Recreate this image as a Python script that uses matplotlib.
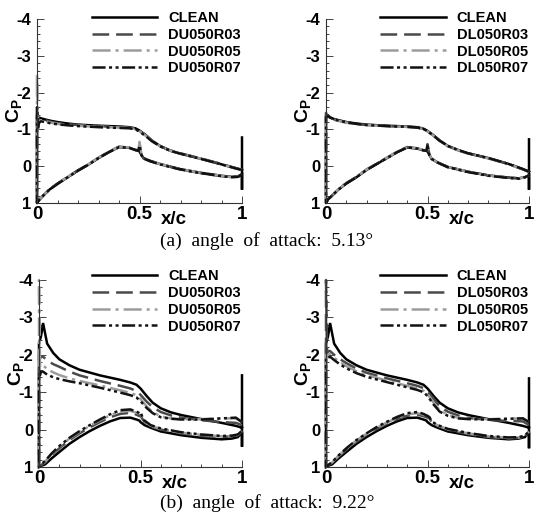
import numpy as np
import matplotlib.pyplot as plt
from matplotlib.ticker import MultipleLocator

plt.rcParams['font.family'] = ['Liberation Sans', 'DejaVu Sans']
plt.rcParams['mathtext.fontset'] = 'custom'
plt.rcParams['mathtext.bf'] = 'Liberation Sans:bold'
plt.rcParams['mathtext.rm'] = 'Liberation Sans'
plt.rcParams['lines.scale_dashes'] = False

# x/c stations, upper (suction) and lower surface
XU = [0.0, 0.005, 0.01, 0.02, 0.04, 0.07, 0.1, 0.15, 0.2, 0.3, 0.4, 0.45, 0.48, 0.5,
      0.53, 0.56, 0.6, 0.65, 0.7, 0.8, 0.9, 0.97, 1.0]
XL = [0.0, 0.01, 0.03, 0.06, 0.1, 0.15, 0.2, 0.25, 0.3, 0.35, 0.4, 0.45, 0.48, 0.495,
      0.5, 0.51, 0.52, 0.55, 0.6, 0.7, 0.8, 0.9, 0.95, 0.98, 1.0]

# (a) 5.13 deg, DU cases
a_du_clean_up = [-1.3, -1.3, -1.32, -1.3, -1.27, -1.23, -1.2, -1.16, -1.13, -1.1, -1.08, -1.06, -1.03, -0.97, -0.85, -0.7, -0.55, -0.42, -0.34, -0.2, -0.05, 0.06, 0.1]
a_du_r03_up = [-1.4, -1.25, -1.3, -1.28, -1.25, -1.2, -1.17, -1.14, -1.12, -1.09, -1.07, -1.05, -1.02, -0.96, -0.84, -0.7, -0.55, -0.43, -0.35, -0.21, -0.06, 0.05, 0.1]
a_du_r05_up = [-2.5, -1.0, -1.2, -1.25, -1.22, -1.18, -1.15, -1.12, -1.1, -1.07, -1.05, -1.04, -1.01, -0.95, -0.83, -0.69, -0.54, -0.42, -0.34, -0.2, -0.05, 0.06, 0.1]
a_du_r07_up = [-1.6, -1.05, -1.18, -1.22, -1.2, -1.16, -1.14, -1.11, -1.09, -1.06, -1.04, -1.03, -1.0, -0.94, -0.82, -0.68, -0.54, -0.42, -0.34, -0.2, -0.05, 0.06, 0.1]
a_du_clean_lo = [1.0, 0.92, 0.8, 0.64, 0.48, 0.3, 0.12, -0.04, -0.22, -0.38, -0.52, -0.5, -0.44, -0.42, -0.4, -0.3, -0.22, -0.15, -0.06, 0.08, 0.18, 0.26, 0.29, 0.28, 0.22]
a_du_r03_lo = [1.0, 0.92, 0.8, 0.63, 0.47, 0.29, 0.11, -0.05, -0.23, -0.39, -0.53, -0.5, -0.44, -0.42, -0.6, -0.3, -0.21, -0.14, -0.05, 0.09, 0.19, 0.27, 0.3, 0.28, 0.22]
a_du_r05_lo = [1.0, 0.91, 0.79, 0.63, 0.47, 0.29, 0.11, -0.05, -0.23, -0.39, -0.53, -0.51, -0.45, -0.43, -0.66, -0.32, -0.22, -0.15, -0.06, 0.08, 0.18, 0.26, 0.3, 0.28, 0.22]
a_du_r07_lo = [1.0, 0.92, 0.8, 0.64, 0.48, 0.3, 0.12, -0.04, -0.22, -0.38, -0.52, -0.5, -0.44, -0.42, -0.56, -0.29, -0.21, -0.14, -0.05, 0.09, 0.19, 0.27, 0.3, 0.29, 0.23]
te_a_du = [0.64, -0.78]

# (a) 5.13 deg, DL cases
a_dl_clean_up = [-1.36, -1.38, -1.38, -1.33, -1.28, -1.24, -1.2, -1.16, -1.13, -1.1, -1.08, -1.06, -1.02, -0.96, -0.84, -0.7, -0.55, -0.44, -0.35, -0.22, -0.06, 0.08, 0.15]
a_dl_r03_up = [-1.45, -1.36, -1.37, -1.32, -1.27, -1.23, -1.19, -1.15, -1.12, -1.09, -1.07, -1.05, -1.01, -0.95, -0.83, -0.69, -0.55, -0.44, -0.35, -0.22, -0.06, 0.08, 0.15]
a_dl_r05_up = [-1.3, -1.34, -1.36, -1.31, -1.26, -1.22, -1.18, -1.15, -1.12, -1.09, -1.07, -1.05, -1.01, -0.95, -0.83, -0.69, -0.54, -0.43, -0.34, -0.21, -0.05, 0.09, 0.16]
a_dl_r07_up = [-1.32, -1.35, -1.36, -1.32, -1.27, -1.23, -1.19, -1.15, -1.12, -1.09, -1.07, -1.05, -1.01, -0.95, -0.83, -0.69, -0.55, -0.44, -0.35, -0.22, -0.06, 0.08, 0.15]
a_dl_clean_lo = [1.0, 0.9, 0.8, 0.64, 0.47, 0.3, 0.1, -0.06, -0.22, -0.38, -0.51, -0.48, -0.43, -0.42, -0.4, -0.3, -0.2, -0.1, 0.02, 0.15, 0.25, 0.31, 0.33, 0.3, 0.25]
a_dl_r03_lo = [1.0, 0.9, 0.8, 0.63, 0.46, 0.29, 0.09, -0.07, -0.23, -0.39, -0.52, -0.48, -0.43, -0.42, -0.6, -0.3, -0.2, -0.1, 0.02, 0.15, 0.25, 0.31, 0.33, 0.3, 0.25]
a_dl_r05_lo = [1.0, 0.9, 0.79, 0.63, 0.46, 0.29, 0.09, -0.07, -0.23, -0.39, -0.52, -0.49, -0.44, -0.43, -0.58, -0.31, -0.21, -0.1, 0.02, 0.15, 0.25, 0.31, 0.33, 0.3, 0.25]
a_dl_r07_lo = [1.0, 0.9, 0.8, 0.64, 0.47, 0.3, 0.1, -0.06, -0.22, -0.38, -0.51, -0.48, -0.43, -0.42, -0.55, -0.3, -0.2, -0.1, 0.03, 0.16, 0.26, 0.32, 0.34, 0.3, 0.25]
te_a_dl = [0.64, -0.73]

# (b) 9.22 deg, DU cases
b_du_clean_up = [-2.3, -2.4, -2.5, -2.85, -2.3, -2.05, -1.88, -1.72, -1.6, -1.45, -1.33, -1.26, -1.2, -1.1, -0.9, -0.72, -0.57, -0.46, -0.39, -0.28, -0.18, -0.1, -0.05]
b_du_r03_up = [-2.0, -1.9, -1.95, -1.95, -1.85, -1.75, -1.68, -1.55, -1.45, -1.3, -1.17, -1.1, -1.03, -0.93, -0.75, -0.6, -0.47, -0.38, -0.32, -0.25, -0.2, -0.18, -0.12]
b_du_r05_up = [-4.0, -1.7, -1.75, -1.72, -1.62, -1.53, -1.46, -1.37, -1.3, -1.18, -1.05, -0.98, -0.92, -0.82, -0.62, -0.47, -0.35, -0.3, -0.28, -0.28, -0.3, -0.3, -0.2]
b_du_r07_up = [-1.5, -1.45, -1.55, -1.55, -1.47, -1.4, -1.35, -1.29, -1.24, -1.12, -0.99, -0.92, -0.86, -0.76, -0.58, -0.44, -0.33, -0.29, -0.27, -0.27, -0.3, -0.32, -0.2]
b_du_clean_lo = [1.0, 0.97, 0.93, 0.78, 0.6, 0.38, 0.2, 0.04, -0.1, -0.22, -0.31, -0.32, -0.27, -0.24, -0.2, -0.16, -0.12, -0.05, 0.05, 0.15, 0.22, 0.26, 0.24, 0.2, 0.06]
b_du_r03_lo = [1.0, 0.95, 0.88, 0.7, 0.5, 0.28, 0.1, -0.06, -0.2, -0.33, -0.42, -0.45, -0.4, -0.36, -0.38, -0.28, -0.2, -0.08, 0.0, 0.1, 0.17, 0.2, 0.18, 0.15, 0.05]
b_du_r05_lo = [1.0, 0.94, 0.86, 0.67, 0.46, 0.24, 0.06, -0.1, -0.25, -0.38, -0.48, -0.5, -0.45, -0.42, -0.45, -0.3, -0.22, -0.1, -0.02, 0.08, 0.14, 0.18, 0.17, 0.14, 0.04]
b_du_r07_lo = [1.0, 0.93, 0.84, 0.65, 0.44, 0.22, 0.04, -0.12, -0.27, -0.41, -0.52, -0.54, -0.48, -0.44, -0.47, -0.32, -0.24, -0.12, -0.03, 0.07, 0.13, 0.17, 0.16, 0.13, 0.03]
te_b_du = [0.46, -1.45]

# (b) 9.22 deg, DL cases
b_dl_clean_up = [-2.3, -2.4, -2.5, -2.85, -2.3, -2.05, -1.88, -1.72, -1.6, -1.45, -1.33, -1.26, -1.2, -1.1, -0.9, -0.72, -0.57, -0.46, -0.39, -0.28, -0.18, -0.1, -0.05]
b_dl_r03_up = [-4.0, -2.05, -2.1, -2.1, -2.0, -1.88, -1.78, -1.63, -1.52, -1.37, -1.24, -1.17, -1.11, -1.02, -0.82, -0.62, -0.48, -0.38, -0.31, -0.26, -0.23, -0.22, -0.12]
b_dl_r05_up = [-2.0, -1.95, -2.0, -2.02, -1.92, -1.8, -1.7, -1.56, -1.46, -1.31, -1.17, -1.1, -1.04, -0.95, -0.72, -0.52, -0.4, -0.32, -0.29, -0.28, -0.29, -0.3, -0.2]
b_dl_r07_up = [-1.9, -1.88, -1.92, -1.95, -1.86, -1.74, -1.64, -1.51, -1.41, -1.27, -1.13, -1.06, -1.0, -0.9, -0.67, -0.48, -0.37, -0.3, -0.28, -0.27, -0.29, -0.3, -0.2]
b_dl_clean_lo = [1.0, 0.97, 0.93, 0.78, 0.6, 0.38, 0.2, 0.04, -0.1, -0.22, -0.31, -0.32, -0.27, -0.24, -0.2, -0.16, -0.12, -0.05, 0.05, 0.15, 0.22, 0.26, 0.24, 0.2, 0.06]
b_dl_r03_lo = [1.0, 0.96, 0.9, 0.73, 0.54, 0.32, 0.14, -0.02, -0.16, -0.28, -0.37, -0.4, -0.36, -0.33, -0.32, -0.3, -0.2, -0.1, 0.0, 0.12, 0.2, 0.24, 0.22, 0.18, 0.06]
b_dl_r05_lo = [1.0, 0.95, 0.88, 0.71, 0.51, 0.29, 0.11, -0.05, -0.19, -0.31, -0.41, -0.44, -0.4, -0.36, -0.35, -0.32, -0.21, -0.11, -0.01, 0.1, 0.18, 0.22, 0.21, 0.17, 0.05]
b_dl_r07_lo = [1.0, 0.95, 0.87, 0.7, 0.5, 0.28, 0.1, -0.07, -0.21, -0.34, -0.44, -0.47, -0.42, -0.38, -0.37, -0.33, -0.22, -0.12, -0.02, 0.09, 0.17, 0.21, 0.2, 0.16, 0.05]
te_b_dl = [0.5, -1.37]

names_du = ['CLEAN', 'DU050R03', 'DU050R05', 'DU050R07']
names_dl = ['CLEAN', 'DL050R03', 'DL050R05', 'DL050R07']
yticks = [-4, -3, -2, -1, 0, 1]
ytick_labels = ['-4', '-3', '-2', '-1', '0', '1']
xticks = [0, 0.5, 1]
xtick_labels = ['0', '0.5', '1']

colors = ['black', '#4a4a4a', '#9c9c9c', '#121212']
dashes = [None, (12, 5), (13, 3.6, 2.2, 3.6), (9.4, 2.5, 2.2, 2.5, 2.2, 2.5)]

W, H = 534., 520.
fig = plt.figure(figsize=(W / 100, H / 100), dpi=100)


def draw_panel(px, names, ups, los, te, leg_y):
    # px = left, top, right, bottom in pixels
    l, t, r, b = px
    ax = fig.add_axes([l / W, 1 - b / H, (r - l) / W, (b - t) / H])
    for i in range(4):
        x = XU[::-1] + XL
        y = ups[i][::-1] + los[i]
        if i == 0:
            x = x + [1.0, 1.0]
            y = y + te
        line, = ax.plot(x, y, color=colors[i], lw=1.8, label=names[i], clip_on=False,
                        solid_joinstyle='miter')
        if dashes[i] is not None:
            line.set_dashes(dashes[i])

    ax.set_xlim(0, 1)
    ax.set_ylim(1, -4)
    ax.set_xticks(xticks)
    ax.set_xticklabels(xtick_labels, fontsize=13.5, fontweight='bold')
    ax.set_yticks(yticks)
    ax.set_yticklabels(ytick_labels, fontsize=12, fontweight='bold')
    ax.xaxis.set_minor_locator(MultipleLocator(0.1))
    ax.yaxis.set_minor_locator(MultipleLocator(0.2))
    ax.tick_params(which='both', direction='in', color='#444444', width=0.7)
    ax.tick_params(which='major', length=5)
    ax.tick_params(which='minor', length=2.5)
    ax.tick_params(axis='x', pad=2)
    ax.tick_params(axis='y', pad=4)
    for s in ['top', 'right']:
        ax.spines[s].set_visible(False)
    for s in ['left', 'bottom']:
        ax.spines[s].set_color('#333333')
        ax.spines[s].set_linewidth(0.8)
    ax.patch.set_alpha(0)

    ax.text(0.67, -0.087, 'x/c', transform=ax.transAxes, ha='center', va='center',
            fontsize=13.5, fontweight='bold')
    ax.text(-0.11, 0.5, r'$\mathbf{C}_\mathbf{P}$', transform=ax.transAxes, rotation=90,
            ha='center', va='center', fontsize=14)

    ax.legend(loc='upper right', bbox_to_anchor=(0.995, leg_y), frameon=False,
              borderpad=0, borderaxespad=0, handlelength=4.5, handletextpad=0.75,
              labelspacing=0.2, prop={'weight': 'bold', 'size': 10.5})
    return ax


draw_panel((37, 19, 242, 203), names_du,
           [a_du_clean_up, a_du_r03_up, a_du_r05_up, a_du_r07_up],
           [a_du_clean_lo, a_du_r03_lo, a_du_r05_lo, a_du_r07_lo], te_a_du, 1.045)
draw_panel((326, 19, 529, 203), names_dl,
           [a_dl_clean_up, a_dl_r03_up, a_dl_r05_up, a_dl_r07_up],
           [a_dl_clean_lo, a_dl_r03_lo, a_dl_r05_lo, a_dl_r07_lo], te_a_dl, 1.045)
draw_panel((39, 280, 242, 467), names_du,
           [b_du_clean_up, b_du_r03_up, b_du_r05_up, b_du_r07_up],
           [b_du_clean_lo, b_du_r03_lo, b_du_r05_lo, b_du_r07_lo], te_b_du, 1.06)
draw_panel((326, 280, 529, 467), names_dl,
           [b_dl_clean_up, b_dl_r03_up, b_dl_r05_up, b_dl_r07_up],
           [b_dl_clean_lo, b_dl_r03_lo, b_dl_r05_lo, b_dl_r07_lo], te_b_dl, 1.06)

fig.text(0.5, 1 - 241 / H, '(a)  angle  of  attack:  5.13\u00b0', ha='center', va='center',
         fontsize=14, family='Liberation Serif')
fig.text(0.5, 1 - 503 / H, '(b)  angle  of  attack:  9.22\u00b0', ha='center', va='center',
         fontsize=14, family='Liberation Serif')

fig.savefig('out.png', dpi=100)
